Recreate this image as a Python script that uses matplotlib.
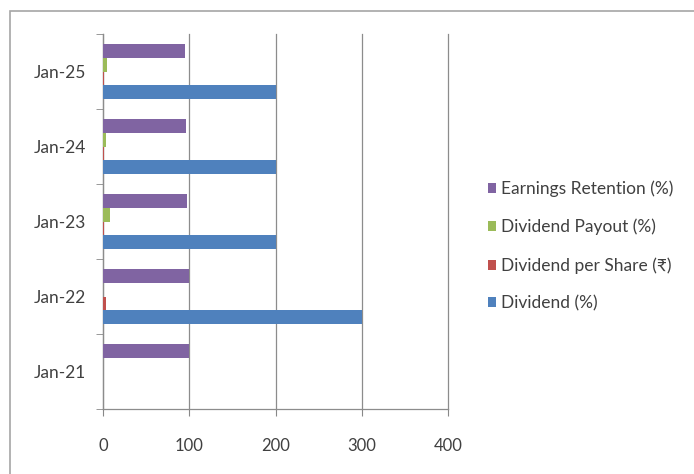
import matplotlib
matplotlib.use("Agg")
import matplotlib.pyplot as plt
import numpy as np
from matplotlib.patches import Rectangle, Patch

plt.rcParams['font.family'] = ['Lato', 'DejaVu Sans']

categories = ["Jan-21", "Jan-22", "Jan-23", "Jan-24", "Jan-25"]
dividend_pct = [0, 300, 200, 200, 200]
dividend_per_share = [0, 3, 1, 1, 1]
dividend_payout = [0, 0.5, 8, 4, 5]
earnings_retention = [100, 100, 97, 96, 95]
x_ticks = [0, 100, 200, 300, 400]

series = [
    ("Dividend (%)", dividend_pct, "#4F81BD"),
    ("Dividend per Share (\u20b9)", dividend_per_share, "#C0504D"),
    ("Dividend Payout (%)", dividend_payout, "#9BBB59"),
    ("Earnings Retention (%)", earnings_retention, "#8064A2"),
]

fig = plt.figure(figsize=(6.94, 4.74), dpi=100)

# chart frame
fig.patches.append(Rectangle((10 / 694, -0.1), 1.2, 1 - 11 / 474 + 0.1,
                             transform=fig.transFigure, fill=False,
                             edgecolor="#a6a6a6", linewidth=1.2))

ax = fig.add_axes([103 / 694, 1 - 409 / 474, 345 / 694, 375 / 474])

y = np.arange(len(categories))
h = 1 / 5.5
handles = []
for i, (name, vals, color) in enumerate(series):
    ax.barh(y + (i - 1.5) * h, vals, height=h, color=color, zorder=3)
    handles.append(Patch(facecolor=color, label=name))

ax.set_xlim(0, 400)
ax.set_ylim(-0.5, len(categories) - 0.5)
ax.set_xticks(x_ticks)
ax.set_xticklabels([str(t) for t in x_ticks])
ax.set_yticks(y)
ax.set_yticklabels(categories)
ax.set_yticks(np.arange(-0.5, len(categories)), minor=True)

ax.tick_params(axis="y", which="major", length=0, pad=12, labelsize=12.5, labelcolor="#404040")
ax.tick_params(axis="y", which="minor", length=5, color="#888888", direction="out")
ax.tick_params(axis="x", which="major", length=5, color="#888888", direction="out",
               pad=16, labelsize=12, labelcolor="#404040")

ax.grid(axis="x", color="#8c8c8c", linewidth=0.9, zorder=0)
for gl in ax.get_xgridlines():
    gl.set_clip_on(False)
for s in ["top", "right"]:
    ax.spines[s].set_visible(False)
for s in ["left", "bottom"]:
    ax.spines[s].set_color("#8c8c8c")
    ax.spines[s].set_linewidth(0.9)

fig.legend(handles=handles[::-1], loc="upper left",
           bbox_to_anchor=(472 / 694, 1 - 165 / 474),
           frameon=False, fontsize=12.5, labelcolor="#404040",
           handlelength=0.5, handleheight=0.5, handletextpad=0.25,
           labelspacing=1.25)

fig.savefig("out.png", dpi=100, facecolor="white")
